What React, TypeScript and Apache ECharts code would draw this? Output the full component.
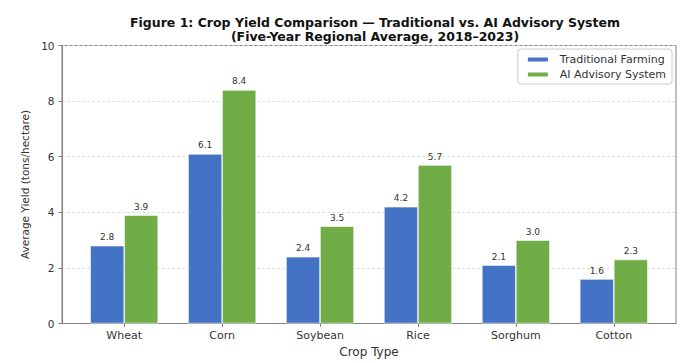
import React, { useEffect, useRef } from "react";
import * as echarts from "echarts";

const categories = ["Wheat", "Corn", "Soybean", "Rice", "Sorghum", "Cotton"];
const traditional = [2.8, 6.1, 2.4, 4.2, 2.1, 1.6];
const aiAdvisory = [3.9, 8.4, 3.5, 5.7, 3.0, 2.3];
const yTicks = [0, 2, 4, 6, 8, 10];

const FONT = "DejaVu Sans";

export default function App() {
  const ref = useRef<HTMLDivElement>(null);
  useEffect(() => {
    if (!ref.current) return;
    const chart = echarts.init(ref.current, null, { renderer: "svg" });
    const positions = categories.map((_, i) => i);
    const labelStyle = {
      show: true,
      position: "top",
      distance: 4,
      fontFamily: FONT,
      fontSize: 9,
      color: "#333",
      formatter: (p: any) => Number(p.value[1]).toFixed(1),
    };
    chart.setOption({
      animation: false,
      backgroundColor: "#fff",
      textStyle: { fontFamily: FONT },
      title: {
        text: "Figure 1: Crop Yield Comparison — Traditional vs. AI Advisory System\n(Five-Year Regional Average, 2018–2023)",
        left: 370,
        top: 10,
        textAlign: "center",
        textStyle: {
          fontFamily: FONT,
          fontWeight: "bold",
          fontSize: 12.5,
          lineHeight: 14,
          color: "#111",
        },
      },
      legend: {
        orient: "vertical",
        right: 11,
        top: 49,
        padding: [5, 6, 4, 8],
        itemWidth: 22,
        itemHeight: 6,
        itemGap: 4,
        borderColor: "#ccc",
        borderWidth: 1,
        borderRadius: 3,
        backgroundColor: "rgba(255,255,255,0.85)",
        textStyle: { fontFamily: FONT, fontSize: 11, color: "#333", padding: [0, 0, 0, 6] },
        data: ["Traditional Farming", "AI Advisory System"],
      },
      grid: {
        left: 62,
        right: 7,
        top: 45.5,
        bottom: 35.5,
        show: true,
        borderColor: "#808080",
        borderWidth: 1,
        backgroundColor: "transparent",
      },
      xAxis: {
        type: "value",
        min: -0.635,
        max: 5.635,
        name: "Crop Type",
        nameLocation: "middle",
        nameGap: 22.5,
        nameTextStyle: { fontFamily: FONT, fontSize: 12, color: "#333" },
        axisLine: { show: true, onZero: false, lineStyle: { color: "#808080" } },
        axisTick: {
          show: true,
          customValues: positions,
          length: 3.5,
          lineStyle: { color: "#808080" },
        },
        axisLabel: {
          customValues: positions,
          formatter: (v: number) => categories[Math.round(v)],
          fontFamily: FONT,
          fontSize: 11,
          color: "#333",
          margin: 6,
        },
        splitLine: { show: false },
      },
      yAxis: {
        type: "value",
        min: 0,
        max: 10,
        interval: 2,
        name: "Average Yield (tons/hectare)",
        nameLocation: "middle",
        nameGap: 29,
        nameTextStyle: { fontFamily: FONT, fontSize: 10.5, color: "#333" },
        axisLine: { show: true, onZero: false, lineStyle: { color: "#808080" } },
        axisTick: { show: true, length: 3.5, lineStyle: { color: "#808080" } },
        axisLabel: {
          fontFamily: FONT,
          fontSize: 10.5,
          color: "#333",
          margin: 7.5,
          formatter: (v: number) => (yTicks.includes(v) ? String(v) : ""),
        },
        splitLine: { show: true, lineStyle: { color: "#d8d8d8", type: [3, 2], width: 0.8 } },
      },
      series: [
        {
          name: "Traditional Farming",
          type: "bar",
          barWidth: 34,
          barGap: "0%",
          itemStyle: { color: "#4472C4", borderColor: "#fff", borderWidth: 0.6 },
          label: labelStyle,
          data: traditional.map((v, i) => [positions[i], v]),
        },
        {
          name: "AI Advisory System",
          type: "bar",
          barWidth: 34,
          barGap: "0%",
          itemStyle: { color: "#70AD47", borderColor: "#fff", borderWidth: 0.6 },
          label: labelStyle,
          data: aiAdvisory.map((v, i) => [positions[i], v]),
        },
      ],
    });
    return () => chart.dispose();
  }, []);
  return (
    <div
      ref={ref}
      style={{ position: "fixed", left: 0, top: 0, width: 683, height: 363 }}
    />
  );
}
